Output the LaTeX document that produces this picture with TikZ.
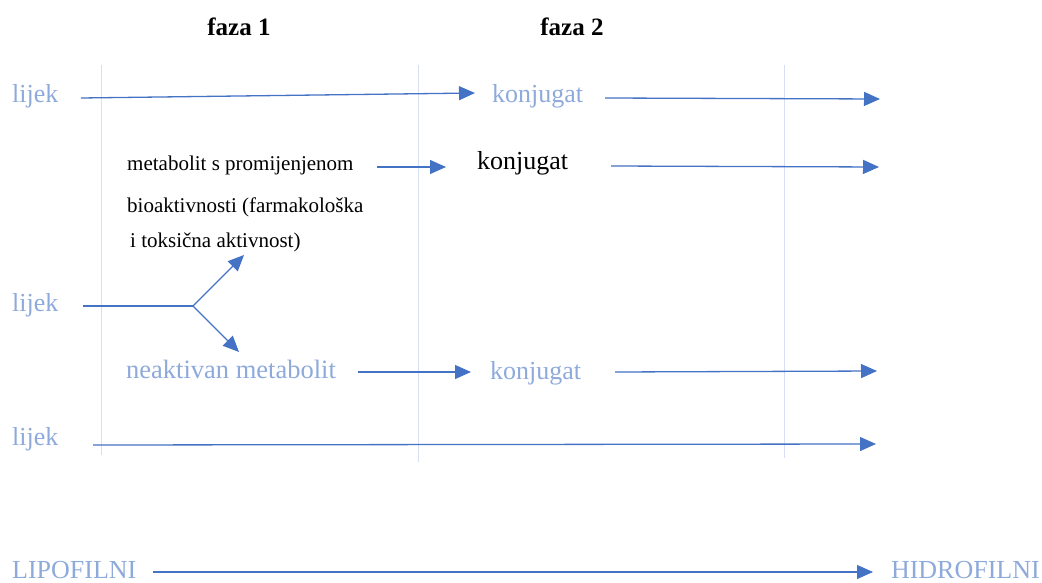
\documentclass[tikz,border=0pt]{standalone}
\usepackage{fontspec}
\setmainfont{Liberation Serif}
\usetikzlibrary{arrows.meta}
\definecolor{lightblue}{HTML}{8EAADB}
\definecolor{arrowblue}{HTML}{4472C4}
\definecolor{gridblue}{HTML}{D6E0F2}
\begin{document}
\begin{tikzpicture}[x=1pt,y=-1pt,
  light/.style={text=lightblue,inner sep=0pt,font=\fontsize{26}{30}\selectfont},
  dark/.style={text=black,inner sep=0pt,font=\fontsize{21}{25}\selectfont},
  bigdark/.style={text=black,inner sep=0pt,font=\fontsize{26}{30}\selectfont},
  head/.style={text=black,inner sep=0pt,font=\fontsize{25}{30}\selectfont\bfseries},
  arr/.style={draw=arrowblue,line width=1.3pt,-{Triangle[length=16pt,width=14pt]}},
  plain/.style={draw=arrowblue,line width=1.3pt},
  grid/.style={draw=gridblue,line width=1pt}]
\useasboundingbox (0,0) rectangle (1042,583);
% headers
\node[head,anchor=base] (f1) at (239,36) {faza 1};
\node[head,anchor=base] (f2) at (572,36) {faza 2};
% vertical lines
\coordinate (v1a) at (101,65); \coordinate (v1b) at (101,455);
\coordinate (v2a) at (418,65); \coordinate (v2b) at (418,462);
\coordinate (v3a) at (784,65); \coordinate (v3b) at (784,458);
\draw[grid] (v1a) -- (v1b);
\draw[grid] (v2a) -- (v2b);
\draw[grid] (v3a) -- (v3b);
% row 1
\node[light,anchor=base west] (l1) at (12,103) {lijek};
\node[light,anchor=base west] (k1) at (492,103) {konjugat};
\coordinate (a1s) at (81,98); \coordinate (a1e) at (475,93);
\coordinate (b1s) at (605,98); \coordinate (b1e) at (880,99);
\draw[arr] (a1s) -- (a1e);
\draw[arr] (b1s) -- (b1e);
% row 2
\node[dark,anchor=base west] (m1) at (127,171) {metabolit s promijenjenom};
\node[dark,anchor=base west] (m2) at (127,212) {bioaktivnosti (farmakološka};
\node[dark,anchor=base west] (m3) at (130,247) {i toksična aktivnost)};
\node[bigdark,anchor=base west] (k2) at (477,170) {konjugat};
\coordinate (a2s) at (377,167); \coordinate (a2e) at (446,167);
\coordinate (b2s) at (611,166); \coordinate (b2e) at (879,167);
\draw[arr] (a2s) -- (a2e);
\draw[arr] (b2s) -- (b2e);
% row 3
\node[light,anchor=base west] (l3) at (12,311) {lijek};
\coordinate (s3) at (83,306); \coordinate (br) at (193,306);
\coordinate (up) at (244,255); \coordinate (dn) at (239,352);
\draw[plain] (s3) -- (br);
\draw[arr] (br) -- (up);
\draw[arr] (br) -- (dn);
\node[light,anchor=base west,font=\fontsize{26.5}{30}\selectfont] (n3) at (126,378) {neaktivan metabolit};
\node[light,anchor=base west] (k3) at (490,379) {konjugat};
\coordinate (a3s) at (358,372); \coordinate (a3e) at (471,372);
\coordinate (b3s) at (615,372); \coordinate (b3e) at (877,371);
\draw[arr] (a3s) -- (a3e);
\draw[arr] (b3s) -- (b3e);
% row 4
\node[light,anchor=base west] (l4) at (12,445) {lijek};
\coordinate (a4s) at (93,445); \coordinate (a4e) at (876,444);
\draw[arr] (a4s) -- (a4e);
% bottom
\node[light,anchor=base west] (lipo) at (12,578) {LIPOFILNI};
\node[light,anchor=base east] (hidro) at (1040,578) {HIDROFILNI};
\coordinate (a5s) at (153,572); \coordinate (a5e) at (873,572);
\draw[arr] (a5s) -- (a5e);
\end{tikzpicture}
\end{document}
